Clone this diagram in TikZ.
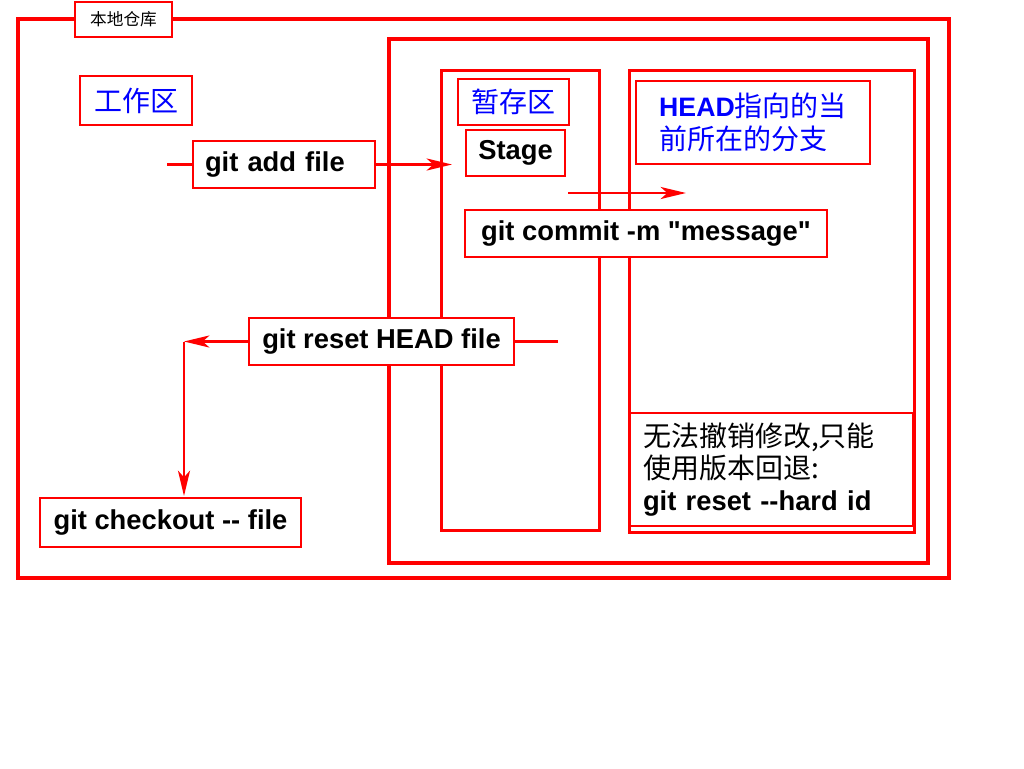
\documentclass[tikz,border=0pt]{standalone}
\usepackage{fontspec}
\setmainfont{Liberation Sans}[Ligatures=TeXOff]
\newfontfamily\cjk{Noto Sans CJK SC}
\usetikzlibrary{arrows.meta}
\begin{document}
\begin{tikzpicture}[x=0.75pt,y=-0.75pt,
  frame/.style={draw=red,line width=2.4pt,inner sep=0pt,outer sep=0pt,anchor=north west},
  col/.style={draw=red,line width=2.25pt,inner sep=0pt,outer sep=0pt,anchor=north west},
  box/.style={draw=red,line width=1.8pt,fill=white,inner sep=0pt,outer sep=0pt,anchor=north west},
  cmd/.style={box,font=\bfseries\fontsize{20.5}{24}\selectfont},
  zh/.style={box,font=\cjk\fontsize{21}{24.75}\selectfont,text=blue},
  conn/.style={draw=red,line width=2.2pt},
  arr/.style={conn,-{Stealth[length=19pt,width=9pt,inset=5pt]}}]
\useasboundingbox (0,0) rectangle (1024,768);
% frames
\node[frame,minimum width=698.25pt,minimum height=419.25pt] (local) at (18,19) {};
\node[frame,minimum width=404.25pt,minimum height=393pt] (repo) at (389,39) {};
\node[col,minimum width=118.5pt,minimum height=345pt] (stagecol) at (441,70) {};
\node[col,minimum width=213.75pt,minimum height=346.5pt] (headcol) at (629,70) {};
% coordinates
\coordinate (addstart) at (167,164.5);
\coordinate (addtip) at (452,164.5);
\coordinate (cstart) at (568,193);
\coordinate (ctip) at (686,193);
\coordinate (rstart) at (558,341.5);
\coordinate (corner) at (184,341.5);
\coordinate (chktip) at (184,496);
% boxes
\node[box,minimum width=72.75pt,minimum height=26.25pt,font=\cjk\fontsize{12.5}{14}\selectfont] (locallabel) at (75,2) {本地仓库};
\node[zh,minimum width=84pt,minimum height=36.75pt] (work) at (80,76) {工作区};
\node[zh,minimum width=83.25pt,minimum height=34.5pt] (stagelabel) at (458,79) {暂存区};
\node[cmd,minimum width=74.25pt,minimum height=34.5pt] (stage) at (466,130) {Stage};
\node[zh,minimum width=175.5pt,minimum height=62.25pt,align=left] (headlabel) at (636,81)
  {{\rmfamily\bfseries\fontsize{20}{24.75}\selectfont HEAD}指向的当\\前所在的分支};
\node[cmd,minimum height=35.25pt,text width=118.5pt,inner xsep=9pt,align=left] (gitadd) at (193,141) {git add file};
\node[cmd,minimum width=271.5pt,minimum height=35.25pt] (commit) at (465,210) {git commit -m "message"};
\node[cmd,minimum width=198.75pt,minimum height=35.25pt] (reset) at (249,318) {git reset HEAD file};
\node[cmd,minimum width=195.75pt,minimum height=36.75pt] (checkout) at (40,498) {git checkout -{}- file};
\node[box,minimum height=84.75pt,text width=192.75pt,inner xsep=9.75pt,align=left,
  font=\cjk\fontsize{21}{24}\selectfont] (hardreset) at (630,413)
  {无法撤销修改,只能\\使用版本回退:\\{\rmfamily\bfseries\fontsize{20.5}{24}\selectfont git reset -{}-hard id}};
% connectors
\draw[conn] (addstart) -- (gitadd.west);
\draw[arr] (gitadd.east) -- (addtip);
\draw[arr] (cstart) -- (ctip);
\draw[conn] (rstart) -- (reset.east);
\draw[arr] (reset.west) -- (corner);
\draw[arr] (corner) -- (chktip);
\end{tikzpicture}
\end{document}
